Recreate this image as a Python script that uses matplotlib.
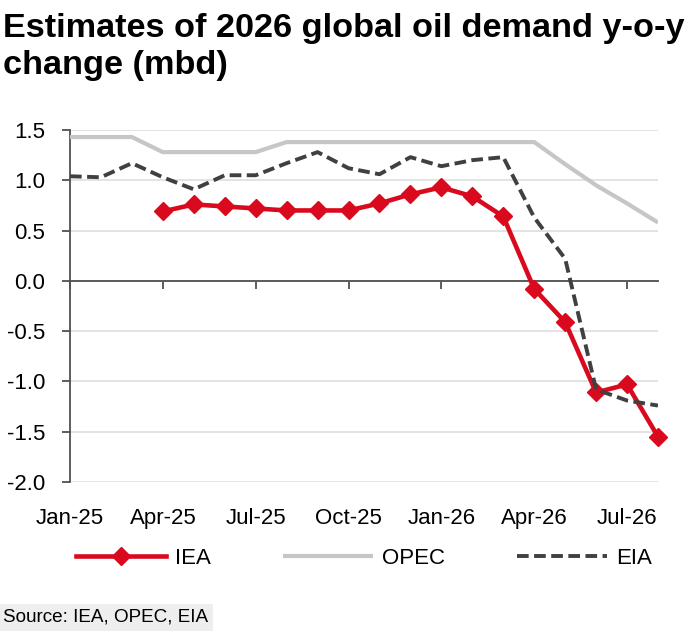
import numpy as np
import matplotlib
matplotlib.use("Agg")
import matplotlib.pyplot as plt

plt.rcParams["font.family"] = ["Liberation Sans", "DejaVu Sans"]
plt.rcParams["axes.unicode_minus"] = False

# monthly estimates, Jan-25 .. Aug-26
months = ["Jan-25", "Feb-25", "Mar-25", "Apr-25", "May-25", "Jun-25", "Jul-25",
          "Aug-25", "Sep-25", "Oct-25", "Nov-25", "Dec-25", "Jan-26", "Feb-26",
          "Mar-26", "Apr-26", "May-26", "Jun-26", "Jul-26", "Aug-26"]
iea = [np.nan, np.nan, np.nan, 0.69, 0.76, 0.74, 0.72, 0.70, 0.70, 0.70,
       0.77, 0.86, 0.93, 0.84, 0.64, -0.08, -0.41, -1.11, -1.03, -1.55]
opec = [1.43, 1.43, 1.43, 1.28, 1.28, 1.28, 1.28, 1.38, 1.38, 1.38,
        1.38, 1.38, 1.38, 1.38, 1.38, 1.38, 1.16, 0.95, 0.77, 0.58]
eia = [1.04, 1.03, 1.17, 1.03, 0.91, 1.05, 1.05, 1.17, 1.28, 1.12,
       1.06, 1.23, 1.14, 1.20, 1.23, 0.63, 0.22, -1.08, -1.19, -1.24]
tick_labels = ["Jan-25", "Apr-25", "Jul-25", "Oct-25", "Jan-26", "Apr-26", "Jul-26"]

x = np.arange(len(months))
tick_pos = [months.index(m) for m in tick_labels]

dark = "#505050"
fig = plt.figure(figsize=(7, 6.31), dpi=100)
ax = fig.add_axes([70 / 700, 1 - 482 / 631, 588 / 700, 352 / 631])

ax.plot(x, opec, color="#C6C6C6", lw=3.0, solid_capstyle="butt", label="OPEC", zorder=3)
ax.plot(x, iea, color="#DA0A1E", lw=3.3, marker="D", markersize=9, label="IEA",
        zorder=4, clip_on=False)
ax.plot(x, eia, color="#404040", lw=2.8, dashes=(3.0, 1.4), label="EIA", zorder=5)

ax.set_xlim(0, 19)
ax.set_ylim(-2.0, 1.5)
ax.set_yticks(np.arange(-2.0, 1.51, 0.5))
ax.set_yticklabels(["%.1f" % v for v in np.arange(-2.0, 1.51, 0.5)])
ax.yaxis.grid(True, color="#DEDEDE", lw=1.2)
ax.set_axisbelow(True)

for s in ["top", "right"]:
    ax.spines[s].set_visible(False)
ax.spines["left"].set_color(dark)
ax.spines["left"].set_linewidth(1.3)
ax.spines["bottom"].set_position(("data", 0))
ax.spines["bottom"].set_color(dark)
ax.spines["bottom"].set_linewidth(1.3)
ax.spines["bottom"].set_zorder(2.5)

ax.set_xticks(tick_pos)
ax.tick_params(axis="x", direction="out", length=6, width=1.3, color=dark, labelbottom=False)
ax.tick_params(axis="y", direction="out", length=6, width=1.3, color=dark,
               labelsize=16, pad=12)

# labels sit at the bottom of the plot, ticks on the zero line
sec = ax.secondary_xaxis("bottom")
sec.set_xticks(tick_pos)
sec.set_xticklabels(tick_labels)
sec.tick_params(length=0, labelsize=16, pad=19)
sec.spines["bottom"].set_visible(False)

handles, labels = ax.get_legend_handles_labels()
order = [labels.index(n) for n in ["IEA", "OPEC", "EIA"]]
ax.legend([handles[i] for i in order], [labels[i] for i in order],
          loc="center", bbox_to_anchor=(0.5, -0.216), bbox_transform=ax.transAxes,
          ncol=3, frameon=False, fontsize=16, handlelength=4.05, handletextpad=0.4,
          columnspacing=3.25)

fig.text(3 / 700, 1 - 37 / 631, "Estimates of 2026 global oil demand y-o-y",
         fontsize=24.7, fontweight="bold", va="baseline", ha="left")
fig.text(3 / 700, 1 - 74 / 631, "change (mbd)",
         fontsize=24.7, fontweight="bold", va="baseline", ha="left")

fig.text(3 / 700, 1 - 622 / 631, "Source: IEA, OPEC, EIA", fontsize=13.6,
         va="baseline", ha="left",
         bbox=dict(facecolor="#EEEEEE", edgecolor="none", pad=3.5))

fig.savefig("out.png", dpi=100)
